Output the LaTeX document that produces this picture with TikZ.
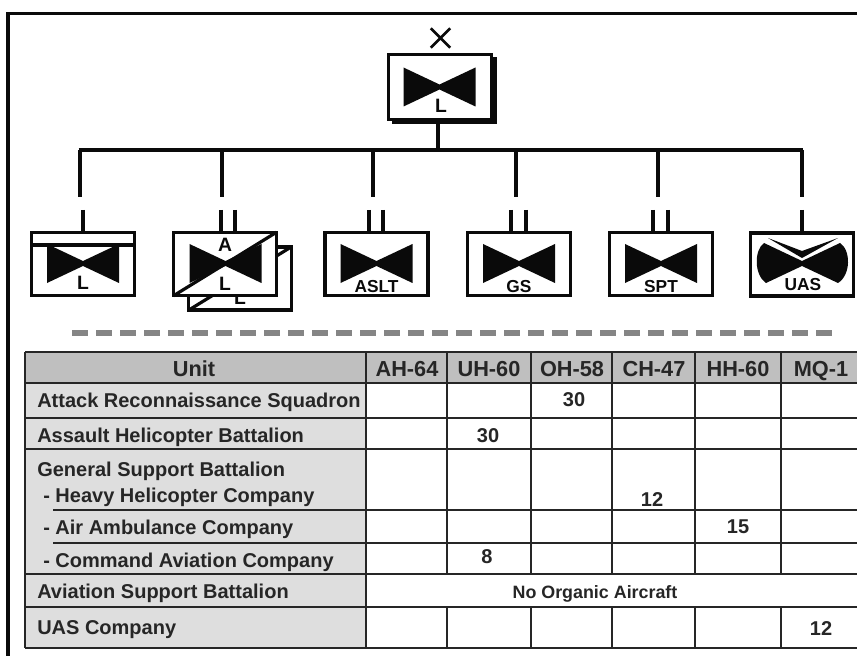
\documentclass[tikz,border=0pt]{standalone}
\usepackage{fontspec}
\setmainfont{Liberation Sans}
\usepackage{xcolor}
\usetikzlibrary{positioning,shapes.misc,calc}
\definecolor{ink}{HTML}{0A0A0A}
\definecolor{rule}{HTML}{262626}
\definecolor{headbg}{HTML}{BFBFBF}
\definecolor{unitbg}{HTML}{DEDEDE}
\definecolor{dashgray}{HTML}{858585}
\tikzset{
  unitbox/.style={draw=ink,fill=white,line width=2.6pt,outer sep=0pt,inner sep=0pt,
                  minimum width=77pt,minimum height=47.5pt},
  shadowbox/.style={fill=ink,outer sep=0pt,inner sep=0pt,
                    minimum width=79pt,minimum height=50pt},
  echelon/.style={cross out,draw=ink,line width=2pt,inner sep=0pt,minimum size=12.5pt},
  symtext/.style={anchor=base,inner sep=0pt,text=ink,font=\fontsize{13}{13}\selectfont\bfseries},
  bigsym/.style={symtext,font=\fontsize{14.5}{14.5}\selectfont\bfseries},
  busline/.style={draw=ink,line width=3.2pt},
  dropline/.style={draw=ink,line width=3pt},
  stubline/.style={draw=ink,line width=2.4pt},
  gridline/.style={draw=rule,line width=1.4pt},
  headtext/.style={anchor=base,inner sep=0pt,text=rule,font=\fontsize{16.3}{16.3}\selectfont\bfseries},
  rowtext/.style={anchor=base west,inner sep=0pt,text=rule,font=\fontsize{15}{15}\selectfont\bfseries},
  counttext/.style={anchor=base,inner sep=0pt,text=rule,font=\fontsize{15}{15}\selectfont\bfseries},
  bowfill/.pic={\fill[ink] (-36,-19.5) -- (0,-2.5) -- (36,-19.5) -- (36,19.5) -- (0,2.5) -- (-36,19.5) -- cycle;}
}
\begin{document}
\begin{tikzpicture}[x=0.75pt,y=-0.75pt]
  \useasboundingbox (0,0) rectangle (857,656);
  \fill[white] (0,0) rectangle (857,656);
  \draw[draw=ink,line width=2.4pt] (8,656) -- (8,13.5) -- (857,13.5);

  % headquarters
  \node[echelon] (mark) at (440.5,38) {};
  \node[shadowbox] (hqshadow) at (444.5,90.5) {};
  \node[unitbox,minimum height=49pt] (hq) at (440,87) {};
  \pic at (439.5,87) {bowfill};
  \node[bigsym] (hqtext) at (441,113) {L};

  % subordinate boxes
  \node[unitbox] (recon) at (83,264) {};
  \draw[stubline] (30,245) -- (136,245);
  \pic at (83,263.5) {bowfill};
  \node[bigsym] (recontext) at (83,289) {L};

  \node[unitbox] (rear) at (240,278.5) {};
  \draw[stubline] (rear.south west) -- (rear.north east);
  \node[bigsym] (reartext) at (240,304) {L};
  \node[unitbox] (attack) at (225,264) {};
  \pic at (225.5,263.5) {bowfill};
  \draw[stubline] (attack.south west) -- (attack.north east);
  \node[bigsym] (attacktop) at (225,252) {A};
  \node[bigsym] (attacklow) at (225,290) {L};

  \foreach \n/\x/\t in {aslt/376.5/ASLT,gs/519/GS,spt/661/SPT}{
    \node[unitbox] (\n) at (\x,264) {};
    \pic at (\x,263.5) {bowfill};
    \node[symtext] (\n text) at (\x,292) {\t};
  }

  \node[unitbox] (uas) at (802,264.5) {};
  \fill[ink] (802,261) -- (764,243) .. controls (754,250) and (754,275) .. (766,283)
    -- (802,266) -- (838,283) .. controls (851,275) and (851,250) .. (840,243) -- cycle;
  \fill[ink] (768,238) -- (802,251) -- (838,238) -- (802,258) -- cycle;
  \node[symtext] (uastext) at (803,291) {UAS};

  % connectors
  \coordinate (busleft) at (80,150);
  \coordinate (busright) at (802,150);
  \coordinate (busmid) at (438,150);
  \draw[busline] (hq.south -| busmid) -- (busmid);
  \draw[busline] ([xshift=-1pt]busleft) -- ([xshift=1pt]busright);
  \foreach \x [count=\i] in {80,222,373,516,658,802}{
    \coordinate (drop\i) at (\x,197);
    \draw[dropline] (drop\i |- busleft) -- (drop\i);
  }
  \foreach \x/\n [count=\i] in {83/recon,221/attack,235/attack,369/aslt,383/aslt,511/gs,526/gs,653/spt,668/spt,802/uas}{
    \coordinate (tag\i) at (\x,210);
    \draw[stubline] (tag\i) -- (tag\i |- \n.north);
  }

  \draw[draw=dashgray,line width=5.2pt,dash pattern=on 12pt off 6pt] (72,333) -- (832,333);

  % table
  \fill[headbg] (25,352) rectangle (857,383);
  \fill[unitbg] (25,383) rectangle (366,648);
  \foreach \y in {352,383,418,449,574,607,648}{
    \draw[gridline] (25,\y) -- (857,\y);
  }
  \foreach \y in {510,543}{
    \draw[gridline] (53,\y) -- (857,\y);
  }
  \draw[gridline] (25,352) -- (25,648);
  \draw[gridline] (366,352) -- (366,648);
  \foreach \x in {447,531,612,695,781}{
    \draw[gridline] (\x,352) -- (\x,574);
    \draw[gridline] (\x,607) -- (\x,648);
  }
  \foreach \x/\t [count=\i] in {194/Unit,407/AH-64,489/UH-60,572/OH-58,654/CH-47,738/HH-60,821/MQ-1}{
    \node[headtext] (head\i) at (\x,376) {\t};
  }
  \foreach \x/\y/\t [count=\i] in {37/407/Attack Reconnaissance Squadron,37/442/Assault Helicopter Battalion,
      37/476/General Support Battalion,43/502/- Heavy Helicopter Company,43/534/- Air Ambulance Company,
      43/567/- Command Aviation Company,37/598/Aviation Support Battalion,37/634/UAS Company}{
    \node[rowtext] (row\i) at (\x,\y) {\t};
  }
  \foreach \x/\y/\t [count=\i] in {574/406/30,488/442/30,652/506/12,738/533/15,487/563/8,821/635/12}{
    \node[counttext] (count\i) at (\x,\y) {\t};
  }
  \node[counttext,font=\fontsize{13.4}{13.4}\selectfont\bfseries] (noorganic) at (595,598) {No Organic Aircraft};
\end{tikzpicture}
\end{document}
